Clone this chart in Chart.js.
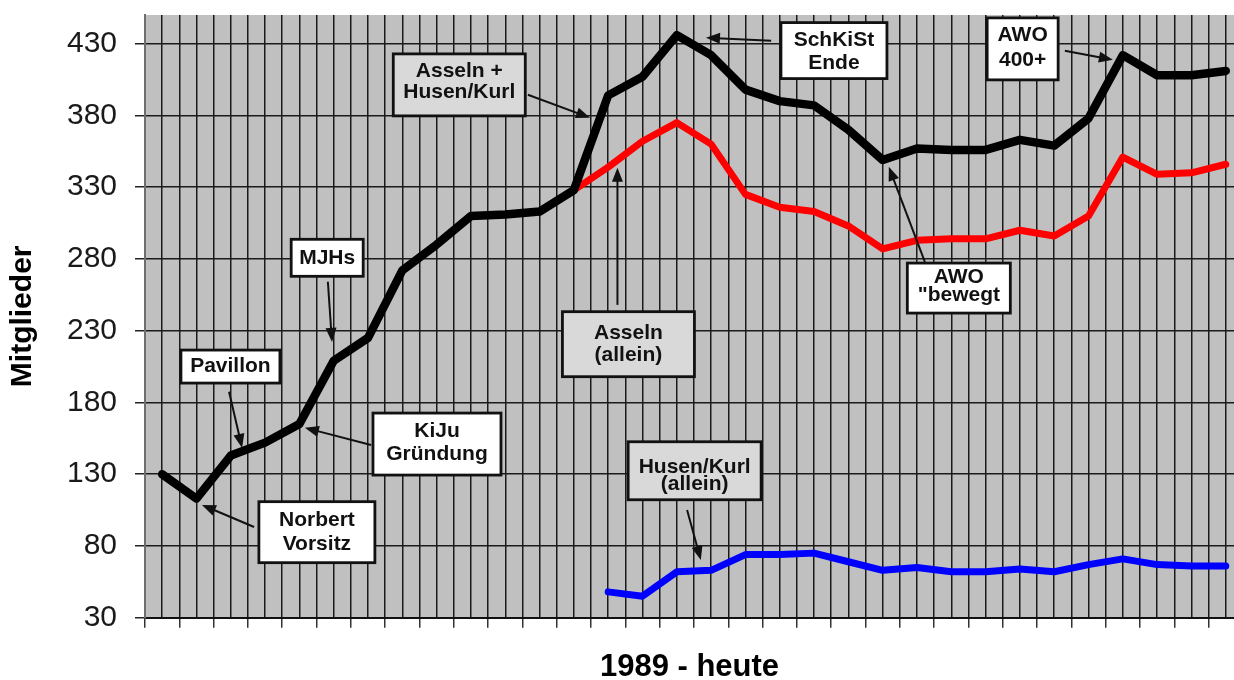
<!DOCTYPE html>
<html>
<head>
<meta charset="utf-8">
<script src="https://cdn.jsdelivr.net/npm/chart.js@4.4.1/dist/chart.umd.min.js"></script>
<style>
  html, body { margin: 0; padding: 0; background: #fff; }
  #wrap { width: 1234px; height: 680px; }
</style>
</head>
<body>
<div id="wrap"><canvas id="chart" width="1234" height="680"></canvas></div>
<script>
// --- DATEN ---
const jahre = [1989, 1990, 1991, 1992, 1993, 1994, 1995, 1996, 1997, 1998, 1999, 2000, 2001, 2002, 2003, 2004,
               2005, 2006, 2007, 2008, 2009, 2010, 2011, 2012, 2013, 2014, 2015, 2016, 2017, 2018, 2019, 2020];

// Asseln + Husen/Kurl
const gesamt = [130, 113, 143, 152, 165, 209, 225, 272, 290, 310, 311, 313, 328, 394, 407, 436,
                422, 398, 390, 387, 370, 349, 357, 356, 356, 363, 359, 378, 422, 408, 408, 411];

// Asseln (allein)
const asseln = [null, null, null, null, null, null, null, null, null, null, null, null, 328, 344, 362, 375,
                360, 325, 316, 313, 303, 287, 293, 294, 294, 300, 296, 310, 351, 339, 340, 346];

// Husen/Kurl (allein)
const husen = [null, null, null, null, null, null, null, null, null, null, null, null, null, 48, 45, 62,
               63, 74, 74, 75, 69, 63, 65, 62, 62, 64, 62, 67, 71, 67, 66, 66];

const yTicks = [30, 80, 130, 180, 230, 280, 330, 380, 430];

const FONT = "'Liberation Sans', Arial, sans-serif";

// --- NOTIZEN (Position in Datenkoordinaten: x = Jahr, y = Mitglieder) ---
const notizen = [
  { text: ['Asseln +', 'Husen/Kurl'], x: 1997.66, y: 401.3, w: 132, h: 62, fill: '#d9d9d9', lh: 21, dy: -3,
    pfeil: [1999.66, 394.4, 2001.47, 378.4] },
  { text: ['SchKiSt', 'Ende'], x: 2008.58, y: 425.2, w: 106, h: 56, fill: '#fff', lh: 23, dy: 1,
    pfeil: [2006.75, 432.1, 2004.85, 434.2] },
  { text: ['AWO', '400+'], x: 2014.08, y: 426.4, w: 71, h: 62, fill: '#fff', lh: 25, dy: -1,
    pfeil: [2015.31, 425.1, 2016.71, 418.8] },
  { text: ['AWO', '"bewegt'], x: 2012.22, y: 259.7, w: 103, h: 50, fill: '#fff', lh: 18, dy: -1.5,
    pfeil: [2011.23, 278.0, 2010.18, 344.2] },
  { text: ['MJHs'], x: 1993.81, y: 280.8, w: 72, h: 37, fill: '#fff', lh: 21, dy: 0,
    pfeil: [1993.83, 264.1, 1993.95, 222.2] },
  { text: ['Pavillon'], x: 1990.99, y: 205.0, w: 99, h: 33, fill: '#fff', lh: 21, dy: 0,
    pfeil: [1990.95, 187.4, 1991.33, 148.3] },
  { text: ['KiJu', 'Gründung'], x: 1997.01, y: 151.0, w: 128, h: 62, fill: '#fff', lh: 23.5, dy: -1.5,
    pfeil: [1995.09, 150.4, 1993.16, 162.3] },
  { text: ['Norbert', 'Vorsitz'], x: 1993.51, y: 89.6, w: 116, h: 61, fill: '#fff', lh: 24, dy: 0.5,
    pfeil: [1991.68, 93.2, 1990.16, 108.6] },
  { text: ['Asseln', '(allein)'], x: 2002.59, y: 220.6, w: 132, h: 65, fill: '#d9d9d9', lh: 22.5, dy: 0,
    pfeil: [2002.27, 248.0, 2002.27, 343.5] },
  { text: ['Husen/Kurl', '(allein)'], x: 2004.52, y: 132.4, w: 133, h: 58, fill: '#d9d9d9', lh: 16.5, dy: 5,
    pfeil: [2004.30, 105.1, 2004.70, 70.2] }
];

// --- PLUGINS ---
const hintergrund = {
  id: 'hintergrund',
  beforeDraw(chart) {
    const { ctx, chartArea: a } = chart;
    ctx.save();
    ctx.fillStyle = '#c0c0c0';
    ctx.fillRect(a.left, a.top, a.right - a.left, a.bottom - a.top);
    ctx.restore();
  }
};

function zeichnePfeil(ctx, x1, y1, x2, y2) {
  const ang = Math.atan2(y2 - y1, x2 - x1);
  const len = 14, br = 5.5;
  ctx.beginPath();
  ctx.moveTo(x1, y1);
  ctx.lineTo(x2 - Math.cos(ang) * len * 0.8, y2 - Math.sin(ang) * len * 0.8);
  ctx.stroke();
  ctx.beginPath();
  ctx.moveTo(x2, y2);
  ctx.lineTo(x2 - len * Math.cos(ang) + br * Math.sin(ang), y2 - len * Math.sin(ang) - br * Math.cos(ang));
  ctx.lineTo(x2 - len * Math.cos(ang) - br * Math.sin(ang), y2 - len * Math.sin(ang) + br * Math.cos(ang));
  ctx.closePath();
  ctx.fill();
}

const notizPlugin = {
  id: 'notizen',
  afterDatasetsDraw(chart) {
    const { ctx, scales: { x, y } } = chart;
    ctx.save();
    notizen.forEach(n => {
      // Pfeil
      const p = n.pfeil;
      ctx.strokeStyle = '#111';
      ctx.fillStyle = '#111';
      ctx.lineWidth = 2;
      zeichnePfeil(ctx, x.getPixelForValue(p[0]), y.getPixelForValue(p[1]),
                        x.getPixelForValue(p[2]), y.getPixelForValue(p[3]));
      // Kasten
      const cx = x.getPixelForValue(n.x);
      const cy = y.getPixelForValue(n.y);
      ctx.fillStyle = n.fill;
      ctx.fillRect(cx - n.w / 2, cy - n.h / 2, n.w, n.h);
      ctx.lineWidth = 2.8;
      ctx.strokeStyle = '#111';
      ctx.strokeRect(cx - n.w / 2, cy - n.h / 2, n.w, n.h);
      // Text
      ctx.fillStyle = '#111';
      ctx.font = 'bold 21px ' + FONT;
      ctx.textAlign = 'center';
      ctx.textBaseline = 'middle';
      n.text.forEach((t, i) => {
        ctx.fillText(t, cx, cy + n.dy + (i - (n.text.length - 1) / 2) * n.lh);
      });
    });
    ctx.restore();
  }
};

// --- CHART ---
const ctx = document.getElementById('chart').getContext('2d');
new Chart(ctx, {
  type: 'line',
  data: {
    labels: jahre,
    datasets: [
      { label: 'Asseln + Husen/Kurl', data: gesamt, borderColor: '#000', borderWidth: 8.5 },
      { label: 'Asseln (allein)', data: asseln, borderColor: '#ff0000', borderWidth: 7 },
      { label: 'Husen/Kurl (allein)', data: husen, borderColor: '#0000ff', borderWidth: 7 }
    ]
  },
  options: {
    responsive: false,
    animation: false,
    devicePixelRatio: 1,
    layout: { padding: { top: 15, right: 0, bottom: 0, left: 0 } },
    elements: {
      point: { radius: 0 },
      line: { tension: 0, borderCapStyle: 'round', borderJoinStyle: 'round', fill: false }
    },
    plugins: { legend: { display: false }, tooltip: { enabled: false } },
    scales: {
      x: {
        type: 'linear',
        min: 1988.5,
        max: 2020.24,
        afterBuildTicks: s => { s.ticks = jahre.flatMap(j => [{ value: j - 0.5 }, { value: j }]); },
        afterFit: s => { s.height = 62.3; s.paddingLeft = 0; s.paddingRight = 0; },
        grid: {
          color: '#1a1a1a', lineWidth: 1.5, tickLength: 10,
          tickColor: c => (c.tick && c.tick.value % 1 !== 0) ? '#333' : 'rgba(0,0,0,0)'
        },
        border: { color: '#111', width: 2 },
        ticks: { display: false },
        title: {
          display: true, text: '1989 - heute', color: '#000',
          font: { family: FONT, size: 31, weight: 'bold', lineHeight: 0.84 },
          padding: { top: 0, bottom: 0 }
        }
      },
      y: {
        min: 30,
        max: 450,
        afterBuildTicks: s => { s.ticks = yTicks.map(v => ({ value: v })); },
        afterFit: s => { s.width = 145; s.paddingTop = 0; s.paddingBottom = 0; },
        grid: { color: '#1a1a1a', lineWidth: 1.5, tickLength: 10, tickColor: '#222' },
        border: { color: '#6e6e6e', width: 2 },
        ticks: { color: '#1a1a1a', padding: 18, font: { family: FONT, size: 30 } },
        title: {
          display: true, text: 'Mitglieder', color: '#000',
          font: { family: FONT, size: 30, weight: 'bold' },
          padding: { top: 5, bottom: 0 }
        }
      }
    }
  },
  plugins: [hintergrund, notizPlugin]
});
</script>
</body>
</html>
